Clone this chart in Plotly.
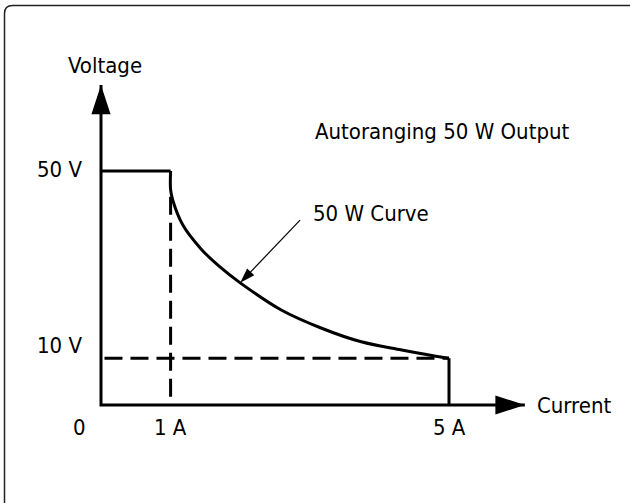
import plotly.graph_objects as go

# ---- data ----
current_ticks = [0, 1, 5]
current_tick_labels = ["0", "1 A", "5 A"]
voltage_ticks = [50, 10]
voltage_tick_labels = ["50 V", "10 V"]

# constant-voltage segment (A, V)
cv_current = [0, 1]
cv_voltage = [50, 50]

# 50 W power curve (A, V)
curve_current = [1.0, 1.0, 1.03, 1.174, 1.434, 1.7, 2.0, 2.59, 3.17, 3.74, 4.32, 4.9, 5.0]
curve_voltage = [50.0, 46.0, 43.8, 38.5, 33.4, 29.6, 26.1, 20.3, 16.4, 13.5, 11.75, 10.2, 10.0]

# constant-current segment at 5 A
cc_current = [5, 5]
cc_voltage = [10, 0]

# dashed guide lines
guide_v_current = [1, 1]
guide_v_voltage = [44.5, 0.8]
guide_h_current = [0.05, 5]
guide_h_voltage = [10, 10]

# axes (with arrow tips)
axis_current = [0, 0, 6.09]
axis_voltage = [68.4, 0, 0]

# annotation pointer "50 W Curve"
pointer_current = [2.86, 2.0]
pointer_voltage = [39.5, 26.1]

# ---- pixel mapping of the reference ----
W, H = 630, 503
X0, SX = 101.0, 69.6     # px = X0 + SX*A
Y0, SY = 405.0, 4.68     # py = Y0 - SY*V
xr = [(0 - X0) / SX, (W - X0) / SX]
yr = [(Y0 - H) / SY, Y0 / SY]

FONT = "Liberation Sans Narrow, Arial Narrow, DejaVu Sans Condensed, sans-serif"
BLACK = "#000000"

fig = go.Figure()

def line(x, y, width=3, dash="solid", shape="linear"):
    fig.add_trace(go.Scatter(x=x, y=y, mode="lines",
                             line=dict(color=BLACK, width=width, dash=dash, shape=shape),
                             hoverinfo="skip", showlegend=False))

# axes
line(axis_current, axis_voltage, width=3)
# arrow heads on the axes
for xs, ys in [([axis_current[1], axis_current[0]], [axis_voltage[1], axis_voltage[0]]),
               ([axis_current[1], axis_current[2]], [axis_voltage[1], axis_voltage[2]])]:
    fig.add_trace(go.Scatter(x=xs, y=ys, mode="markers",
                             marker=dict(symbol="arrow", size=[0, 31], angleref="previous",
                                         color=BLACK, opacity=1, line=dict(width=0)),
                             hoverinfo="skip", showlegend=False))

# dashed guides
line(guide_v_current, guide_v_voltage, width=3, dash="18px,8px")
line(guide_h_current, guide_h_voltage, width=3, dash="18px,8px")

# output envelope
line(cv_current, cv_voltage, width=3)
line(curve_current, curve_voltage, width=3, shape="spline")
line(cc_current, cc_voltage, width=3)

# pointer arrow
fig.add_trace(go.Scatter(x=pointer_current, y=pointer_voltage, mode="lines+markers",
                         line=dict(color=BLACK, width=1.2),
                         marker=dict(symbol="arrow", size=[0, 16], angleref="previous",
                                     color=BLACK, opacity=1, line=dict(width=0)),
                         hoverinfo="skip", showlegend=False))

FS = 22
annotations = []
def text(t, x, y, xanchor="center", yanchor="middle", xshift=0, yshift=0):
    annotations.append(dict(text=t, x=x, y=y, xref="x", yref="y", showarrow=False,
                            xanchor=xanchor, yanchor=yanchor, xshift=xshift, yshift=yshift,
                            font=dict(family=FONT, size=FS, color=BLACK)))

# x tick labels
for v, lab in zip(current_ticks, current_tick_labels):
    if v == 0:
        text(lab, v, -4.9, xshift=-22)
    else:
        text(lab, v, -4.9)
# y tick labels
for v, lab in zip(voltage_ticks, voltage_tick_labels):
    dv = 0.4 if v == 50 else 2.8
    text(lab, -0.24, v + dv, xanchor="right")

text("Voltage", 0.057, 72.6)
text("Current", 6.236, 0, xanchor="left")
text("Autoranging 50 W Output", 4.9, 58.5)
text("50 W Curve", 3.017, 41.0, xanchor="left")

# rounded frame (pixel -> paper)
def px(x):
    return x / W
def py(y):
    return 1 - y / H
r = 8
fx0, fy0 = 4.5, 5.5
fx1, fy1 = W + 5, H + 5
path = (f"M {px(fx0)},{py(fy1)} L {px(fx0)},{py(fy0 + r)} "
        f"Q {px(fx0)},{py(fy0)} {px(fx0 + r)},{py(fy0)} L {px(fx1)},{py(fy0)}")

fig.update_layout(
    width=W, height=H,
    margin=dict(l=0, r=0, t=0, b=0),
    paper_bgcolor="white", plot_bgcolor="white",
    xaxis=dict(range=xr, visible=False, fixedrange=True),
    yaxis=dict(range=yr, visible=False, fixedrange=True),
    annotations=annotations,
    shapes=[dict(type="path", xref="paper", yref="paper", path=path,
                 line=dict(color="#222222", width=1.5))],
    showlegend=False,
)

fig.write_html("out.html", config={"displayModeBar": False},
               post_script="document.body.style.margin='0';document.body.style.overflow='hidden';")
